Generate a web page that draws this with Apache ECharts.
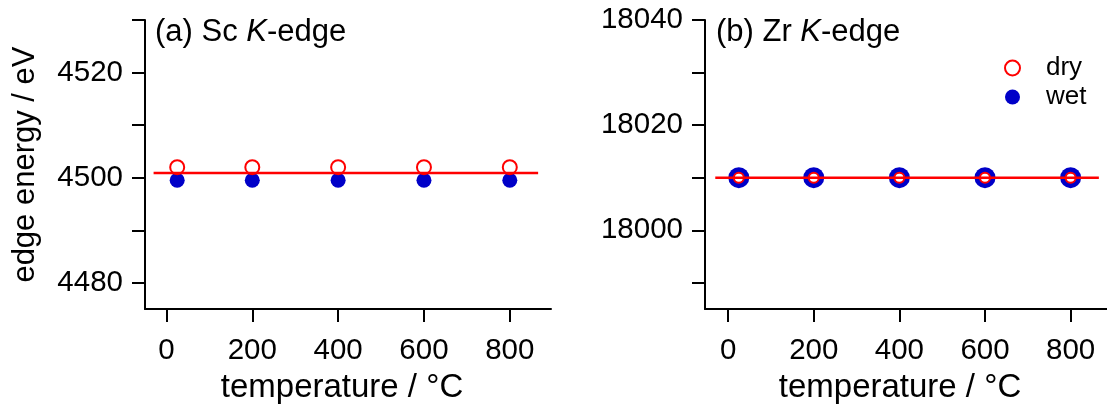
<!DOCTYPE html>
<html>
<head>
<meta charset="utf-8">
<title>edge energy vs temperature</title>
<script src="https://cdn.jsdelivr.net/npm/echarts@6/dist/echarts.min.js"></script>
<style>
  html, body { margin: 0; padding: 0; background: #fff; }
  #main { width: 1107px; height: 409px; }
</style>
</head>
<body>
<div id="main"></div>
<script>
// temperatures (°C)
var temps = [25, 200, 400, 600, 800];

// (a) Sc K-edge, eV
var scDry = [4502.0, 4502.0, 4502.0, 4502.0, 4502.0];
var scWet = [4499.5, 4499.5, 4499.5, 4499.5, 4499.5];
var scLine = 4500.9;

// (b) Zr K-edge, eV
var zrDry = [18010, 18010, 18010, 18010, 18010];
var zrWet = [18010, 18010, 18010, 18010, 18010];
var zrLine = 18010;

var lineSpan = [-30, 866];
var xTicks = [0, 200, 400, 600, 800];
var scLabels = [4480, 4500, 4520];
var scTicks = [4480, 4490, 4500, 4510, 4520, 4530];
var zrLabels = [18000, 18020, 18040];
var zrTicks = [17990, 18000, 18010, 18020, 18030, 18040];

var FONT = 'Liberation Sans';
var RED = '#ff0000';
var BLUE = '#0000c8';

function pairs(xs, ys) {
    return xs.map(function (x, i) { return [x, ys[i]]; });
}

// plain numbers, no thousands separator
function plain(v) {
    return String(v);
}

var axisLine = { lineStyle: { color: '#000', width: 2 } };

function xAxis(idx, min, max) {
    return {
        gridIndex: idx,
        type: 'value',
        min: min,
        max: max,
        name: 'temperature / °C',
        nameLocation: 'middle',
        nameGap: 53,
        nameTextStyle: { fontFamily: FONT, fontSize: 33, color: '#000', padding: [0, 12, 0, 0] },
        axisLine: axisLine,
        axisTick: { show: true, length: 13, lineStyle: { color: '#000', width: 2 }, customValues: xTicks },
        axisLabel: { fontFamily: FONT, fontSize: 29.5, color: '#000', margin: 27, customValues: xTicks, formatter: plain },
        splitLine: { show: false }
    };
}

function yAxis(idx, min, max, labels, ticks, name) {
    return {
        gridIndex: idx,
        type: 'value',
        min: min,
        max: max,
        name: name,
        nameLocation: 'middle',
        nameGap: 104,
        nameTextStyle: { fontFamily: FONT, fontSize: 31, color: '#000' },
        axisLine: { show: true, onZero: false, lineStyle: { color: '#000', width: 2 } },
        axisTick: { show: true, length: 13, lineStyle: { color: '#000', width: 2 }, customValues: ticks },
        axisLabel: { fontFamily: FONT, fontSize: 29.5, color: '#000', margin: 22, customValues: labels, formatter: plain },
        splitLine: { show: false }
    };
}

var myChart = echarts.init(document.getElementById('main'));

var titleRich = {
    n: { fontFamily: FONT, fontSize: 31, color: '#000', fontWeight: 'normal' },
    i: { fontFamily: FONT, fontSize: 31, color: '#000', fontWeight: 'normal', fontStyle: 'italic' }
};

var option = {
    animation: false,
    backgroundColor: '#fff',
    title: [
        { text: '{n|(a) Sc }{i|K}{n|-edge}', left: 155, top: 17, padding: 0, textStyle: { fontWeight: 'normal', rich: titleRich } },
        { text: '{n|(b) Zr }{i|K}{n|-edge}', left: 716, top: 17, padding: 0, textStyle: { fontWeight: 'normal', rich: titleRich } }
    ],
    legend: {
        data: ['dry', 'wet'],
        orient: 'vertical',
        left: 1004,
        top: 55,
        itemWidth: 15,
        itemHeight: 15,
        itemGap: 3,
        padding: 0,
        textStyle: { fontFamily: FONT, fontSize: 26, color: '#000', padding: [0, 0, 0, 21] }
    },
    grid: [
        { left: 145, top: 20, right: 556, bottom: 97.5 },
        { left: 705, top: 20, right: 0, bottom: 97.5 }
    ],
    xAxis: [xAxis(0, -50, 896), xAxis(1, -54, 885)],
    yAxis: [
        yAxis(0, 4475, 4530, scLabels, scTicks, 'edge energy / eV'),
        yAxis(1, 17985, 18040, zrLabels, zrTicks, '')
    ],
    series: [
        {
            name: 'fit-a', type: 'line', xAxisIndex: 0, yAxisIndex: 0,
            data: pairs(lineSpan, [scLine, scLine]),
            symbol: 'none', lineStyle: { color: RED, width: 2.5 }, silent: true
        },
        {
            name: 'wet', type: 'scatter', xAxisIndex: 0, yAxisIndex: 0,
            data: pairs(temps, scWet), symbolSize: 15,
            itemStyle: { color: BLUE, opacity: 1 }
        },
        {
            name: 'dry', type: 'scatter', xAxisIndex: 0, yAxisIndex: 0,
            data: pairs(temps, scDry), symbolSize: 14,
            itemStyle: { color: '#fff', borderColor: RED, borderWidth: 2, opacity: 1 }
        },
        {
            name: 'fit-b', type: 'line', xAxisIndex: 1, yAxisIndex: 1,
            data: pairs(lineSpan, [zrLine, zrLine]),
            symbol: 'none', lineStyle: { color: RED, width: 2.5 }, silent: true
        },
        {
            name: 'wet', type: 'scatter', xAxisIndex: 1, yAxisIndex: 1,
            data: pairs(temps, zrWet), symbolSize: 21,
            itemStyle: { color: BLUE, opacity: 1 }
        },
        {
            name: 'dry', type: 'scatter', xAxisIndex: 1, yAxisIndex: 1,
            data: pairs(temps, zrDry), symbolSize: 10,
            itemStyle: { color: '#fff', borderColor: RED, borderWidth: 2, opacity: 1 }
        }
    ]
};

myChart.setOption(option);
</script>
</body>
</html>
